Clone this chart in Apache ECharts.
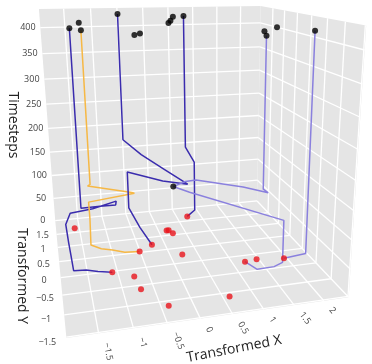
<!DOCTYPE html>
<html><head><meta charset="utf-8">
<script src="https://cdn.jsdelivr.net/npm/echarts/dist/echarts.min.js"></script>
<style>html,body{margin:0;padding:0;background:#fff}#c{width:372px;height:364px}</style>
</head><body><div id="c"></div>
<script>
const W = 372, H = 364;
// scene axis ranges
const xRange = [-1.95, 2.43];
const yRange = [-1.52, 2.08];
const tRange = [0, 435];
// tick values
const xTicks = [-1.5, -1, -0.5, 0, 0.5, 1, 1.5, 2];
const yTicks = [-1.5, -1, -0.5, 0, 0.5, 1, 1.5];
const tTicks = [0, 50, 100, 150, 200, 250, 300, 350, 400];
// start positions (t = 0)
const startX = [-1.59, -1.09, -0.75, -0.71, -0.38, -0.51, -0.24, 0.16, 0.20, 0.25, 0.22, 0.72, 0.61, 1.23, 1.46, 1.95];
const startY = [1.67, -0.03, -0.23, -0.61, -1.12, 0.53, 0.72, 1.20, 1.20, 1.06, 0.27, 1.69, -1.10, -0.20, -0.17, -0.24];
// end positions
const endX = [-1.43, -1.25, -1.25, -0.52, -0.43, -0.30, 0.46, 0.50, 0.55, 0.73, 1.72, 1.94, 2.43, 2.38, 0.30];
const endY = [1.88, 1.90, 1.52, 1.90, 0.70, 0.88, 1.90, 1.90, 1.90, 1.79, 0.19, 0.77, 1.30, -0.22, 1.15];
const endT = [400, 410, 400, 425, 400, 400, 406, 410, 418, 420, 400, 400, 400, 412, 95];
// trajectories [x, y, t]
const pathA = [[-1.09,-0.03,0],[-1.33,-0.02,4],[-1.52,0.02,7],[-1.73,0.0,10],[-1.74,0.5,11],[-1.75,0.9,12],[-1.76,1.6,14],[-1.65,1.85,25],[-1.2,1.85,30],[-0.72,1.85,42],[-0.74,1.8,36],[-1.05,1.85,34],[-1.43,1.88,32],[-1.43,1.88,400]];
const pathB = [[-0.51,0.53,0],[-0.78,0.53,2],[-1.0,0.52,10],[-1.2,0.52,15],[-1.38,0.5,26],[-1.32,1.15,45],[-1.3,1.5,62],[-0.4,1.5,72],[-0.45,1.5,74],[-1.3,1.52,95],[-1.25,1.52,98],[-1.25,1.52,400]];
const pathC = [[-0.24,0.72,0],[-0.36,1.25,10],[-0.46,1.9,22],[-0.46,1.9,102],[0.13,1.3,102],[0.6,1.2,95],[0.2,1.45,120],[-0.2,1.7,145],[-0.52,1.9,172],[-0.52,1.9,425]];
const pathD = [[0.72,1.69,0],[0.9,1.75,10],[0.9,1.75,118],[0.73,1.79,151],[0.73,1.79,420]];
const pathE = [[0.3,1.15,95],[0.5,1.0,110],[0.65,0.8,120],[1.42,0.4,116],[1.8,0.15,112],[1.72,0.19,118],[1.72,0.19,400]];
const pathF = [[1.95,-0.24,0],[2.38,-0.22,3],[2.38,-0.22,412]];
const pathG = [[1.23,-0.2,0],[1.33,-0.5,2],[1.64,-0.5,3],[1.82,-0.45,6],[1.82,-0.45,87],[0.58,1.0,87],[0.3,1.15,95]];

const DARK = '#3a2cae', LIGHT = '#8a80de', ORANGE = '#f6b845';

// ---- camera: fit a pinhole projection to box corners and grid crossings on the box edges (normalized box -> page px)
const calib = [[0,0,0,70,343],[1,0,0,347,295],[0,1,0,53,217],[1,1,0,259,205],[0,1,1,38,12],[1,1,1,263,7],[1,0,1,364,20],
  [0.1027,0,0,100,338],[0.4452,0,0,200,320.5],[0.6735,0,0,263,309.6],[0.9018,0,0,322,299.3],
  [0,0.1444,0,66.5,317],[0,0.2833,0,63.3,293],[0,0.4222,0,61.1,277],[0,0.5611,0,58.9,260.5],[0,0.7,0,56.8,245.5],[0,0.8389,0,55,231.5]];
function lstsq(rows, rhs) {
  const n = rows[0].length;
  const M = [...Array(n)].map(() => new Array(n + 1).fill(0));
  rows.forEach((r, k) => { for (let i = 0; i < n; i++) { for (let j = 0; j < n; j++) M[i][j] += r[i] * r[j]; M[i][n] += r[i] * rhs[k]; } });
  for (let c = 0; c < n; c++) {
    let p = c; for (let r = c + 1; r < n; r++) if (Math.abs(M[r][c]) > Math.abs(M[p][c])) p = r;
    [M[c], M[p]] = [M[p], M[c]];
    for (let r = 0; r < n; r++) { if (r === c) continue; const f = M[r][c] / M[c][c]; for (let j = c; j <= n; j++) M[r][j] -= f * M[c][j]; }
  }
  return M.map((r, i) => r[n] / r[i]);
}
const rows = [], rhs = [];
calib.forEach(([x, y, z, u, v]) => {
  u /= 100; v /= 100;
  rows.push([x, y, z, 1, 0, 0, 0, 0, -u * x, -u * y, -u * z]); rhs.push(u);
  rows.push([0, 0, 0, 0, x, y, z, 1, -v * x, -v * y, -v * z]); rhs.push(v);
});
const P = lstsq(rows, rhs);
function projN(nx, ny, nz) {
  const d = P[8] * nx + P[9] * ny + P[10] * nz + 1;
  return [100 * (P[0] * nx + P[1] * ny + P[2] * nz + P[3]) / d, 100 * (P[4] * nx + P[5] * ny + P[6] * nz + P[7]) / d];
}
function proj(x, y, t) {
  return projN((x - xRange[0]) / (xRange[1] - xRange[0]), (y - yRange[0]) / (yRange[1] - yRange[0]), (t - tRange[0]) / (tRange[1] - tRange[0]));
}

// ---- scene walls and gridlines
const x0 = xRange[0], x1 = xRange[1], y0 = yRange[0], y1 = yRange[1], t0 = tRange[0], t1 = tRange[1];
const walls = [
  [[x0,y0,t0],[x1,y0,t0],[x1,y1,t0],[x0,y1,t0]],
  [[x0,y1,t0],[x1,y1,t0],[x1,y1,t1],[x0,y1,t1]],
  [[x1,y0,t0],[x1,y1,t0],[x1,y1,t1],[x1,y0,t1]]
].map(q => q.map(p => proj(...p)));
const grid = [];
xTicks.forEach(x => { grid.push([[x,y0,t0],[x,y1,t0]]); grid.push([[x,y1,t0],[x,y1,t1]]); });
yTicks.forEach(y => { grid.push([[x0,y,t0],[x1,y,t0]]); grid.push([[x1,y,t0],[x1,y,t1]]); });
tTicks.forEach(t => { grid.push([[x0,y1,t],[x1,y1,t]]); grid.push([[x1,y0,t],[x1,y1,t]]); });
const gridPx = grid.map(s => s.map(p => proj(...p)));

const fmt = v => (v < 0 ? '\u2212' : '') + Math.abs(v);
const labels = [];
const TF = '9px "Open Sans", sans-serif';
tTicks.forEach(t => { const p = proj(x0, y1, t); labels.push({ p: [p[0] - 12.5, p[1]], text: fmt(t), align: 'center', rot: 0 }); });
yTicks.forEach(y => { const p = proj(x0, y, t0); labels.push({ p: [p[0] - 14 - 5 * (1.5 - y) / 3, p[1] + 1 + 4 * (1.5 - y) / 3], text: fmt(y), align: 'center', rot: 0 }); });
xTicks.forEach((x, i) => {
  const a = proj(x, y0, t0), b = proj(x, y0 - 1, t0);
  const ang = Math.atan2(b[1] - a[1], b[0] - a[0]);
  const p = proj(x, y0 - 0.2, t0);
  labels.push({ p: [p[0] + 6 * (1 - i / (xTicks.length - 1)), p[1]], text: fmt(x), align: 'left', rot: -ang });
});

const chart = echarts.init(document.getElementById('c'));
const pathSeries = (data, color) => ({
  type: 'line', data: data.map(p => proj(...p)), showSymbol: false, symbol: 'none', z: 3,
  lineStyle: { color, width: 1.5 }, silent: true, animation: false
});
chart.setOption({
  animation: false,
  grid: { left: 0, right: 0, top: 0, bottom: 0 },
  xAxis: { type: 'value', min: 0, max: W, show: false },
  yAxis: { type: 'value', min: 0, max: H, inverse: true, show: false },
  series: [
    {
      type: 'custom', silent: true, z: 1, data: [[0, 0]],
      renderItem: (params, api) => {
        const children = [];
        walls.forEach(q => children.push({ type: 'polygon', shape: { points: q.map(p => api.coord(p)) }, style: { fill: '#e5e5e5', stroke: null } }));
        gridPx.forEach(s => children.push({ type: 'polyline', shape: { points: s.map(p => api.coord(p)) }, style: { stroke: '#ffffff', lineWidth: 1.3, fill: null } }));
        labels.forEach(l => { const c = api.coord(l.p); children.push({ type: 'text', x: c[0], y: c[1], rotation: l.rot, style: { text: l.text, font: TF, fill: '#444', align: l.align, verticalAlign: 'middle' } }); });
        children.push({ type: 'text', x: 12.5, y: 125, rotation: -Math.PI / 2, style: { text: 'Timesteps', font: '14px "Open Sans", sans-serif', fill: '#222', align: 'center', verticalAlign: 'middle' } });
        children.push({ type: 'text', x: 21.5, y: 276, rotation: -Math.PI / 2, style: { text: 'Transformed Y', font: '14px "Open Sans", sans-serif', fill: '#222', align: 'center', verticalAlign: 'middle' } });
        children.push({ type: 'text', x: 234, y: 349, rotation: 0.19, style: { text: 'Transformed X', font: '14px "Open Sans", sans-serif', fill: '#222', align: 'center', verticalAlign: 'middle' } });
        return { type: 'group', children };
      }
    },
    pathSeries(pathA, DARK), pathSeries(pathB, ORANGE), pathSeries(pathC, DARK), pathSeries(pathD, DARK),
    pathSeries(pathE, LIGHT), pathSeries(pathF, LIGHT), pathSeries(pathG, LIGHT),
    { type: 'scatter', z: 4, symbolSize: 6, itemStyle: { color: '#e8141b' }, data: startX.map((x, i) => proj(x, startY[i], 0)) },
    { type: 'scatter', z: 5, symbolSize: 6, itemStyle: { color: '#000' }, data: endX.map((x, i) => proj(x, endY[i], endT[i])) }
  ]
});
</script></body></html>
